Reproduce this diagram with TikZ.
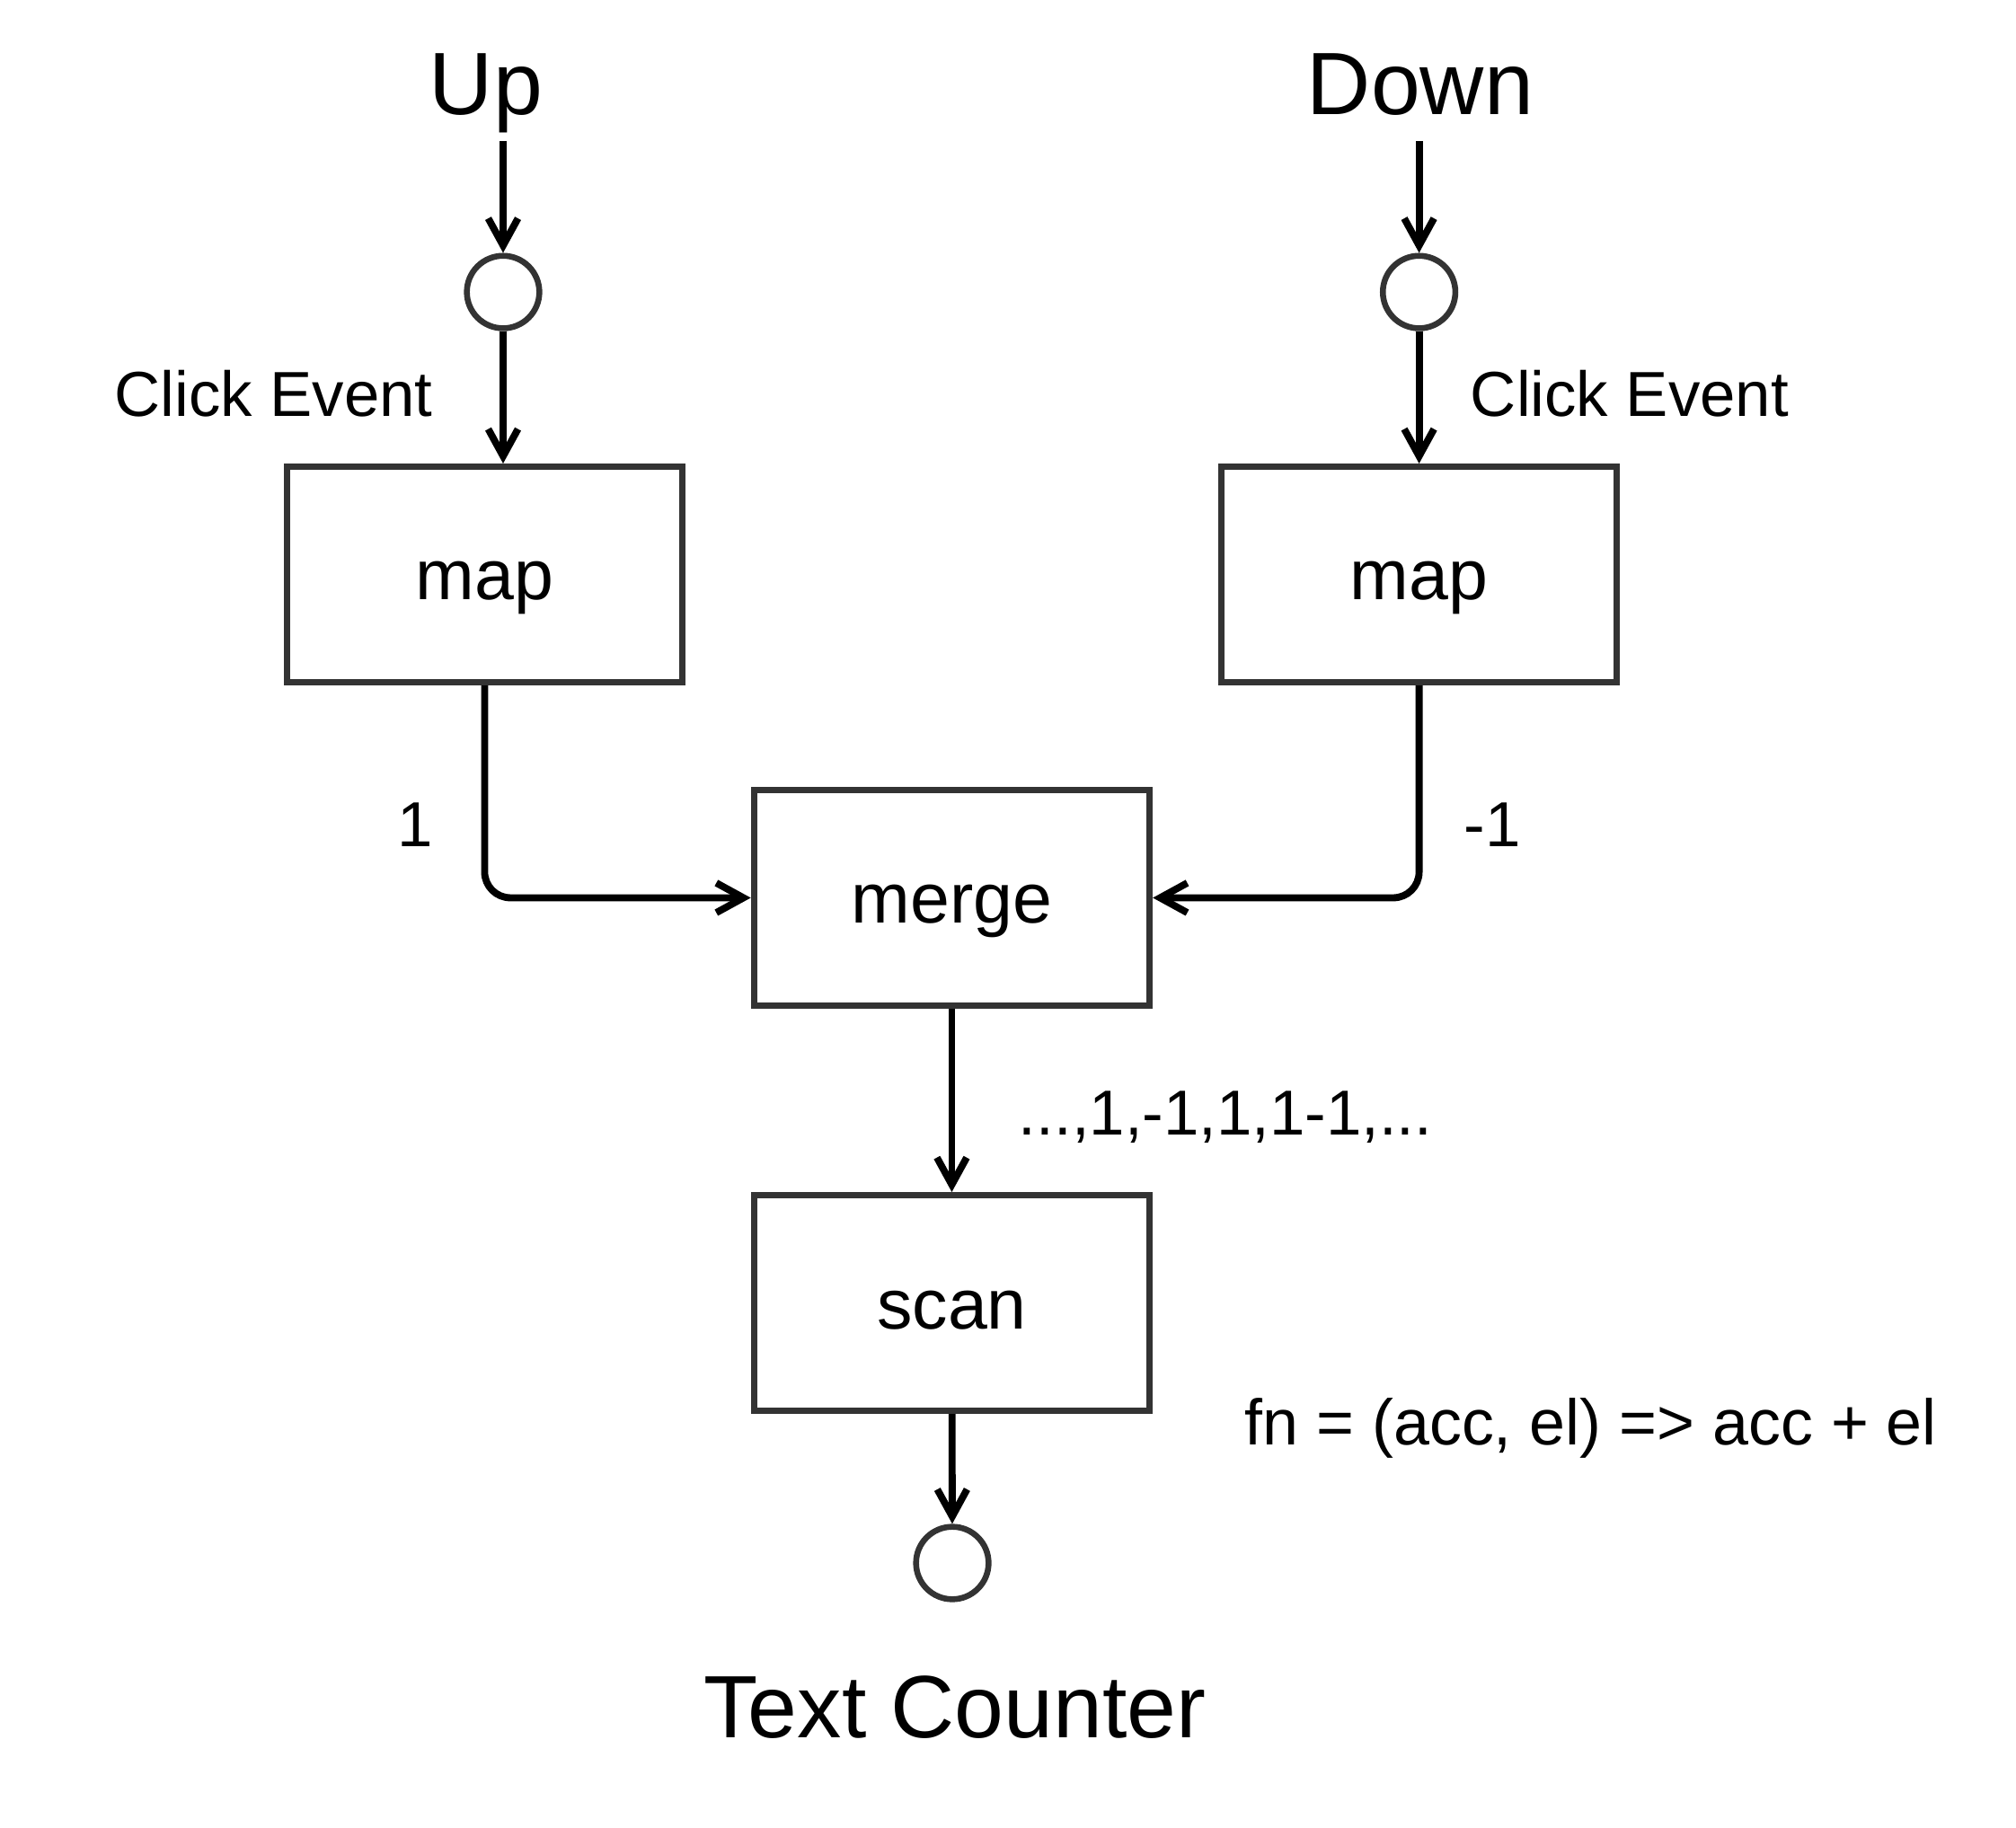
\documentclass[tikz,border=0pt]{standalone}
\usepackage{fontspec}
\setmainfont{Liberation Sans}
\usetikzlibrary{arrows.meta}
\definecolor{boxgray}{HTML}{333333}
\tikzset{
  op/.style={draw=boxgray,line width=1.45pt,minimum width=3.06cm,minimum height=1.667cm,inner sep=0pt,
    font=\fontsize{15.6}{18}\selectfont,text height=14pt,text depth=2.75pt},
  evt/.style={circle,draw=boxgray,fill=white,line width=1.3pt,minimum size=0.561cm,inner sep=0pt},
  flow/.style={-{Straight Barb[length=2.1mm,width=2.3mm]},line width=1.55pt},
  lbl/.style={font=\fontsize{14}{17}\selectfont,anchor=base,inner sep=0pt},
  big/.style={font=\fontsize{19.5}{23}\selectfont,anchor=base,inner sep=0pt}
}
\begin{document}
\begin{tikzpicture}
\useasboundingbox (0,0) rectangle (15.6,-14.14);
% sources
\node[big] (up) at (3.76,-0.883) {Up};
\node[big] (down) at (10.99,-0.883) {Down};
\coordinate (upin) at (3.893,-1.09);
\coordinate (downin) at (10.981,-1.09);
\node[evt] (upc) at (3.893,-2.26) {};
\node[evt] (downc) at (10.981,-2.26) {};
% operators
\node[op] (mapl) at (3.75,-4.446) {map};
\node[op] (mapr) at (10.981,-4.446) {map};
\node[op] (merge) at (7.365,-6.948) {merge};
\node[op] (scan) at (7.365,-10.084) {scan};
\node[evt] (outc) at (7.369,-12.096) {};
% arrows
\draw[flow] (upin) -- (upc);
\draw[flow] (downin) -- (downc);
\draw[flow] (upc) -- (upc |- mapl.north);
\draw[flow] (downc) -- (downc |- mapr.north);
\draw[flow,rounded corners=0.2cm] (mapl.south) |- (merge.west);
\draw[flow,rounded corners=0.2cm] (mapr.south) |- (merge.east);
\draw[flow] (merge) -- (scan);
\draw[flow] (scan) -- (outc);
% labels
\node[lbl] (clickl) at (2.118,-3.219) {Click Event};
\node[lbl] (clickr) at (12.61,-3.219) {Click Event};
\node[lbl] (onel) at (3.21,-6.55) {1};
\node[lbl] (oner) at (11.55,-6.55) {-1};
\node[lbl] (stream) at (9.483,-8.78) {...,1,-1,1,1-1,...};
\node[lbl,font=\fontsize{14.2}{17}\selectfont] (fn) at (12.31,-11.185) {fn = (acc, el) => acc + el};
\node[big] (title) at (7.39,-13.45) {Text Counter};
\end{tikzpicture}
\end{document}
